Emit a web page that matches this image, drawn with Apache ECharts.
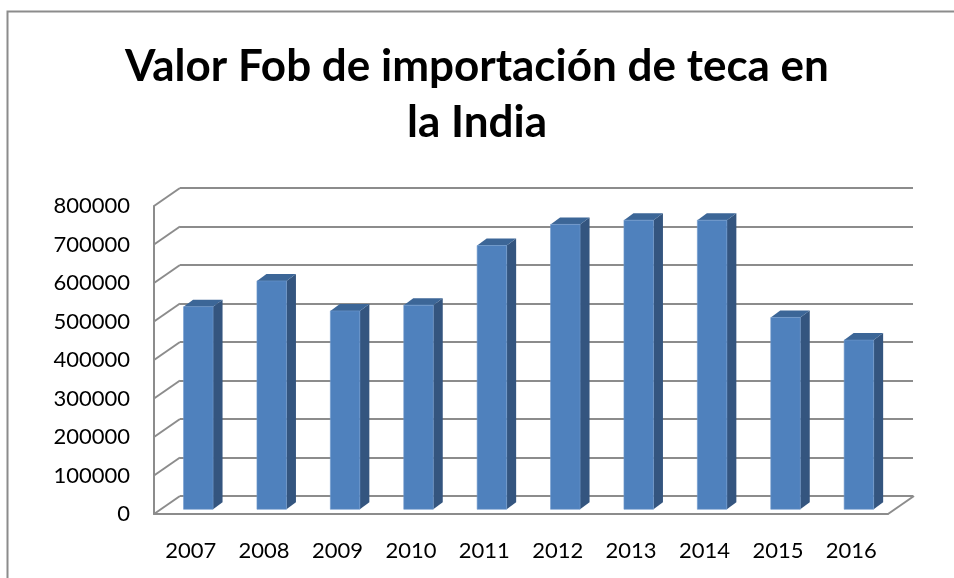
<!DOCTYPE html>
<html>
<head>
<meta charset="utf-8">
<script src="https://cdn.jsdelivr.net/npm/echarts@6/dist/echarts.min.js"></script>
<style>html,body{margin:0;padding:0;background:#fff}#c{width:954px;height:578px}</style>
</head>
<body>
<div id="c"></div>
<script>
var years = ['2007','2008','2009','2010','2011','2012','2013','2014','2015','2016'];
var values = [527000, 594000, 516000, 531000, 686000, 741000, 752000, 752000, 499000, 440000];
var yTicks = [0, 100000, 200000, 300000, 400000, 500000, 600000, 700000, 800000];
var titleText = 'Valor Fob de importación de teca en\nla India';

var FONT = 'Lato, "Open Sans", sans-serif';
var GRID_COLOR = '#8c8c8c';
var DX = 26, DY = -18;      // wall depth offset
var BDX = 9.5, BDY = -7;    // bar depth offset
var BW = 29.5;

var chart = echarts.init(document.getElementById('c'), null, {renderer: 'canvas'});

var option = {
  backgroundColor: '#ffffff',
  animation: false,
  title: {
    text: titleText,
    left: 'center',
    top: 34,
    textStyle: {fontFamily: FONT, fontSize: 44, fontWeight: 'bold', color: '#000', lineHeight: 56}
  },
  graphic: [{
    type: 'rect', left: 5, top: 9, shape: {width: 948, height: 600},
    style: {fill: 'none', stroke: '#8c8c8c', lineWidth: 2}, silent: true, z: -1
  }],
  grid: [
    {left: 154, top: 206, width: 734, height: 308},
    {left: 180, top: 188, width: 733, height: 308},
    {left: 161.6, top: 201.7, width: 734, height: 307.6}
  ],
  xAxis: [
    {gridIndex: 0, type: 'category', data: years, boundaryGap: true,
     axisLine: {show: true, lineStyle: {color: GRID_COLOR, width: 2}},
     axisTick: {show: false},
     axisLabel: {color: '#000', fontFamily: FONT, fontSize: 22, margin: 26}},
    {gridIndex: 1, type: 'category', data: years, show: false},
    {gridIndex: 2, type: 'category', data: years, show: false}
  ],
  yAxis: [
    {gridIndex: 0, type: 'value', min: 0, max: 800000, interval: 100000,
     axisLine: {show: true, lineStyle: {color: GRID_COLOR, width: 2}},
     axisTick: {show: false}, splitLine: {show: false},
     axisLabel: {color: '#000', fontFamily: FONT, fontSize: 22, margin: 24,
                 formatter: function (v) { return String(v); }}},
    {gridIndex: 1, type: 'value', min: 0, max: 800000, interval: 100000,
     axisLine: {show: false}, axisTick: {show: false}, axisLabel: {show: false},
     splitLine: {show: true, lineStyle: {color: GRID_COLOR, width: 2}}},
    {gridIndex: 2, type: 'value', min: 0, max: 800000, interval: 100000, show: false,
     splitLine: {show: false}}
  ],
  series: [
    {
      type: 'custom', xAxisIndex: 0, yAxisIndex: 0, silent: true, z: 1,
      data: yTicks.map(function (v) { return [0, v]; }),
      renderItem: function (params, api) {
        var p = api.coord([0, api.value(1)]);
        var half = api.size([1, 0])[0] / 2;
        var xl = p[0] - half;
        var children = [{
          type: 'line',
          shape: {x1: xl, y1: p[1], x2: xl + DX, y2: p[1] + DY},
          style: {stroke: GRID_COLOR, lineWidth: 2}
        }];
        if (api.value(1) === 0) {
          var pr = api.coord([years.length - 1, 0]);
          var xr = pr[0] + half;
          children.push({
            type: 'line',
            shape: {x1: xr, y1: pr[1], x2: xr + DX, y2: pr[1] + DY},
            style: {stroke: GRID_COLOR, lineWidth: 2}
          });
        }
        return {type: 'group', children: children};
      }
    },
    {
      type: 'custom', xAxisIndex: 2, yAxisIndex: 2, silent: true, z: 5,
      data: values.map(function (v, i) { return [i, v]; }),
      renderItem: function (params, api) {
        var i = api.value(0);
        var base = api.coord([i, 0]);
        var top = api.coord([i, api.value(1)]);
        var x0 = base[0] - BW / 2, x1 = x0 + BW;
        return {
          type: 'group',
          children: [
            {type: 'polygon', shape: {points: [[x1, top[1]], [x1 + BDX, top[1] + BDY], [x1 + BDX, base[1] + BDY], [x1, base[1]]]},
             style: {fill: '#34557f'}},
            {type: 'polygon', shape: {points: [[x0, top[1]], [x0 + BDX, top[1] + BDY], [x1 + BDX, top[1] + BDY], [x1, top[1]]]},
             style: {fill: '#3c6697'}},
            {type: 'rect', shape: {x: x0, y: top[1], width: BW, height: base[1] - top[1]},
             style: {fill: '#4f81bd', stroke: '#6f98cc', lineWidth: 0.6}}
          ]
        };
      }
    }
  ]
};
chart.setOption(option);
</script>
</body>
</html>
